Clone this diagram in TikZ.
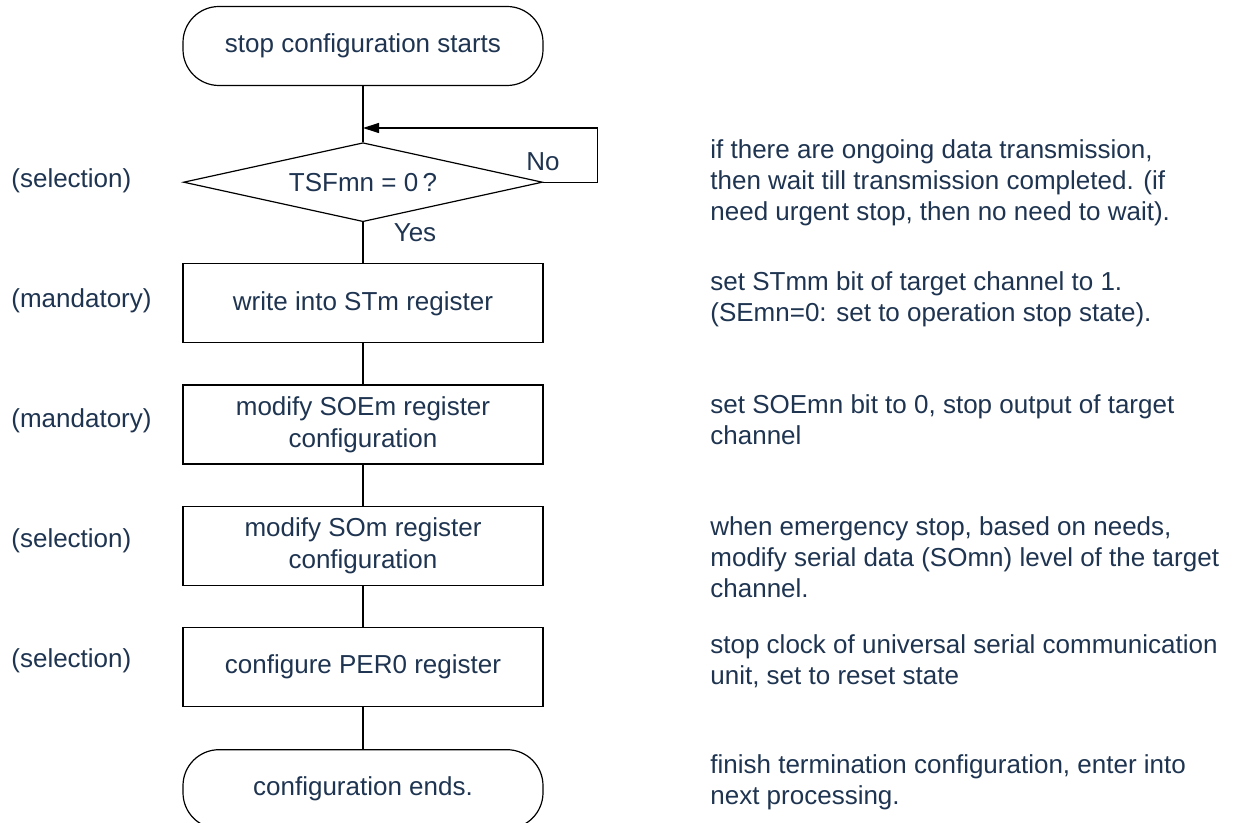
\documentclass[tikz,border=0pt]{standalone}
\usepackage{fontspec}
\setmainfont{Liberation Sans}
\usetikzlibrary{shapes.geometric, arrows.meta, positioning}
\definecolor{NoteNavy}{RGB}{30,52,80}

\begin{document}
\begin{tikzpicture}[
    x=0.5pt, y=-0.5pt,
    node distance=20.5pt,
    every node/.style={font=\fontsize{13}{15.5}\selectfont, text=NoteNavy},
    term/.style={rectangle, rounded corners=18pt, draw=black, line width=0.6pt,
                 minimum width=180pt, minimum height=39.5pt, inner sep=0pt},
    stepbox/.style={rectangle, draw=black, line width=0.6pt,
                 minimum width=180pt, minimum height=39.5pt, align=center,
                 inner sep=0pt, font=\fontsize{13}{16}\selectfont},
    decide/.style={diamond, draw=black, line width=0.6pt, aspect=4.5,
                 minimum width=179.5pt, minimum height=39.5pt, inner sep=0pt},
    tag/.style={anchor=west, inner sep=0pt},
    note/.style={anchor=west, align=left, inner sep=0pt},
    line/.style={draw=black, line width=0.6pt},
    arr/.style={line, -{Triangle[length=8pt, width=5pt]}}
  ]
    \useasboundingbox (0,0) rectangle (1239,823);

    % main flow
    \node[term] (start) at (363,46) {stop configuration starts};
    \node[decide, below=28pt of start] (tsf) {TSFmn = 0\,?};
    \node[stepbox, below=of tsf] (st)  {write into STm register};
    \node[stepbox, below=of st]  (soe) {modify SOEm register\\configuration};
    \node[stepbox, below=of soe] (so)  {modify SOm register\\configuration};
    \node[stepbox, below=of so]  (per) {configure PER0 register};
    \node[term, below=21pt of per] (fin) {configuration ends.};
    \coordinate (back) at (363,128);

    \node[inner sep=0pt] (no)  at (543,162) {No};
    \node[inner sep=0pt] (yes) at (415,233) {Yes};

    % left tags
    \node[tag] (t1) at (11,181) {(selection)};
    \node[tag] (t2) at (11,301) {(mandatory)};
    \node[tag] (t3) at (11,421) {(mandatory)};
    \node[tag] (t4) at (11,541) {(selection)};
    \node[tag] (t5) at (11,661) {(selection)};

    % notes
    \node[note] (n1) at (710,183) {if there are ongoing data transmission,\\then wait till transmission completed. (if\\need urgent stop, then no need to wait).};
    \node[note] (n2) at (710,299) {set STmm bit of target channel to 1.\\(SEmn=0: set to operation stop state).};
    \node[note] (n3) at (710,420) {set SOEmn bit to 0, stop output of target\\channel};
    \node[note] (n4) at (710,557) {when emergency stop, based on needs,\\modify serial data (SOmn) level of the target\\channel.};
    \node[note] (n5) at (710,661) {stop clock of universal serial communication\\unit, set to reset state};
    \node[note] (n6) at (710,782) {finish termination configuration, enter into\\next processing.};

    \draw[line](start)--(tsf); \draw[line](tsf)--(st);
    \draw[line](st)--(soe);    \draw[line](soe)--(so);
    \draw[line](so)--(per);    \draw[line](per)--(fin);
    \draw[arr](tsf.east) -- ++(54,0) |- (back);
\end{tikzpicture}
\end{document}
